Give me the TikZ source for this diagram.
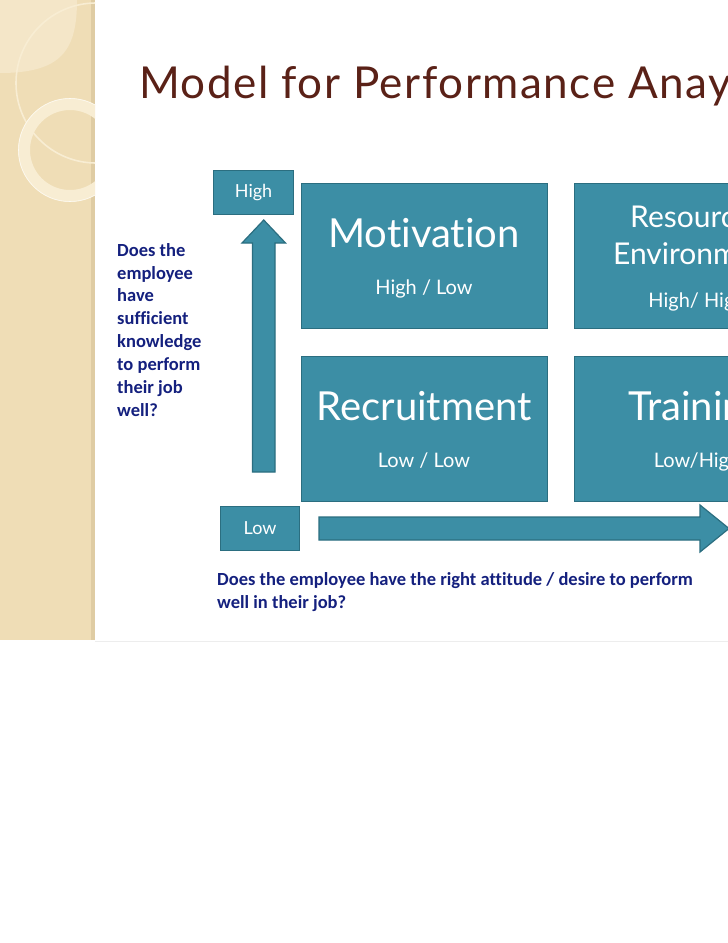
\documentclass[tikz,border=0pt]{standalone}
\usepackage{fontspec}
\setmainfont{Lato}[Ligatures=NoCommon]
\newfontfamily\calfont{Carlito}[Ligatures=NoCommon]
\newfontfamily\titlefont{Lato}[Ligatures=NoCommon, LetterSpace=3.5]
\definecolor{beige}{HTML}{EFDDB6}
\definecolor{beigelight}{HTML}{F4E6C8}
\definecolor{beigeedge}{HTML}{DFCCA3}
\definecolor{ringc}{HTML}{F8EDD3}
\definecolor{titlec}{HTML}{5A2117}
\definecolor{tealf}{HTML}{3C8EA5}
\definecolor{teald}{HTML}{2B6E80}
\definecolor{navy}{HTML}{14207E}
\tikzset{
  box/.style={draw=teald, fill=tealf, line width=1.2pt, inner sep=0pt, anchor=north west},
  bigtxt/.style={text=white, font=\fontsize{40}{44}\selectfont, anchor=base, inner sep=0pt},
  midtxt/.style={text=white, font=\fontsize{30}{37}\selectfont, anchor=base, inner sep=0pt, align=center},
  smalltxt/.style={text=white, font=\fontsize{20}{24}\selectfont, anchor=base, inner sep=0pt},
  axtxt/.style={text=white, font=\fontsize{18}{22}\selectfont, inner sep=0pt},
  question/.style={text=navy, font=\calfont\bfseries\fontsize{18.5}{22.9}\selectfont, inner sep=0pt, align=left},
  blockarrow/.style={draw=teald, fill=tealf, line width=1.2pt, line join=miter}
}
\begin{document}
\begin{tikzpicture}[x=1pt,y=-1pt]
\useasboundingbox (0,0) rectangle (728,943);
\clip (0,0) rectangle (728,943);
\fill[white] (0,0) rectangle (728,943);
% left decorative panel
\fill[beige] (0,0) rectangle (95,640);
\fill[beigelight] (0,0) -- (77,0) .. controls (77,50) and (62,73) .. (0,73) -- cycle;
\fill[beigeedge] (91,0) rectangle (95,640);
\begin{scope}
  \clip (0,0) rectangle (95,640);
  \draw[ringc, line width=1.6pt] (96,83) circle[radius=80];
  \fill[ringc, even odd rule] (70,150) circle[radius=52] (70,150) circle[radius=40];
  \draw[white!70!ringc, line width=0.6pt] (70,150) circle[radius=51.5];
\end{scope}
\draw[black!7, line width=0.8pt] (95,641) -- (728,641);
% title
\node[text=titlec, font=\titlefont\fontsize{44}{50}\selectfont, anchor=base west, inner sep=0pt] (title) at (139,98) {Model for Performance Anaysis};
% axis labels
\node[box, minimum width=80pt, minimum height=44pt] (high) at (213,170) {};
\node[axtxt] (hight) at (high.center) {High};
\node[box, minimum width=79pt, minimum height=44pt] (low) at (220,506) {};
\node[axtxt] (lowt) at (low.center) {Low};
% quadrants
\node[box, minimum width=246pt, minimum height=145pt] (mot) at (301,183) {};
\node[box, minimum width=246pt, minimum height=145pt] (res) at (574,183) {};
\node[box, minimum width=246pt, minimum height=145pt] (rec) at (301,356) {};
\node[box, minimum width=246pt, minimum height=145pt] (tra) at (574,356) {};
\node[bigtxt] (motT) at (424,247) {Motivation};
\node[smalltxt] (motS) at (424,294) {High / Low};
\node[midtxt] (resT1) at (697,227) {Resources};
\node[midtxt] (resT2) at (697,264) {Environment};
\node[smalltxt] (resS) at (697,307) {High/ High};
\node[bigtxt] (recT) at (424,420) {Recruitment};
\node[smalltxt] (recS) at (424,467) {Low / Low};
\node[bigtxt] (traT) at (697,420) {Training};
\node[smalltxt] (traS) at (697,467) {Low/High};
% block arrows
\draw[blockarrow] (252.5,472) -- (252.5,243) -- (242,243) -- (263.75,220) -- (285.5,243) -- (275,243) -- (275,472) -- cycle;
\draw[blockarrow] (319,517) -- (700,517) -- (700,505) -- (729,528.5) -- (700,552) -- (700,540) -- (319,540) -- cycle;
% questions
\node[question, anchor=north west] (qk) at (117,243) {Does the\\employee\\have\\sufficient\\knowledge\\to perform\\their job\\well?};
\node[question, anchor=north west] (qa) at (217,572) {Does the employee have the right attitude / desire to perform\\well in their job?};
\end{tikzpicture}
\end{document}
